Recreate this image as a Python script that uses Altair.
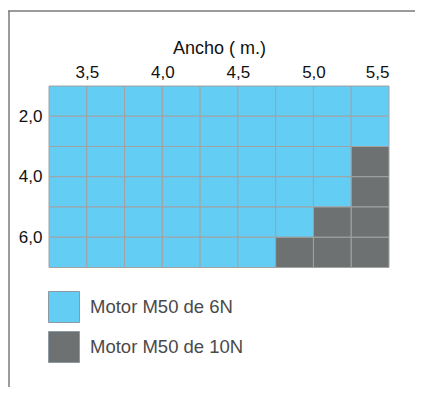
import altair as alt
import pandas as pd

# Column right edges (ancho, m) and row bottom edges (alto, m)
ancho = [3.5, 3.75, 4.0, 4.25, 4.5, 4.75, 5.0, 5.25, 5.5]
alto = [2, 3, 4, 5, 6, 7]
# Largest height (row bottom) served by the 6N motor, per column
limite_6N = [7, 7, 7, 7, 7, 7, 6, 5, 3]
paso_ancho = 0.25
paso_alto = 1

motores = ["Motor M50 de 6N", "Motor M50 de 10N"]
colores = ["#63CDF4", "#6E7172"]

x_ticks = [3.5, 4.0, 4.5, 5.0, 5.5]
y_ticks = [2, 4, 6]

rows = []
for a, lim in zip(ancho, limite_6N):
    for h in alto:
        rows.append({
            "x0": a - paso_ancho, "x1": a,
            "y0": h - paso_alto, "y1": h,
            "motor": motores[0] if h <= lim else motores[1],
        })
df = pd.DataFrame(rows)

FONT = "Liberation Sans"

cells = alt.Chart(df).mark_rect(stroke="#a2a2a2", strokeWidth=1).encode(
    x=alt.X("x0:Q",
            scale=alt.Scale(domain=[3.25, 5.5], nice=False, zero=False),
            axis=alt.Axis(orient="top", values=x_ticks, ticks=False, domain=False,
                          grid=False, title="Ancho ( m.)",
                          labelExpr="replace(format(datum.value, '.1f'), '.', ',')",
                          labelFontSize=17, labelColor="#111", labelFont=FONT,
                          labelPadding=5, titleFont=FONT, titleFontSize=18,
                          titleFontWeight="normal", titleColor="#111",
                          titlePadding=6)),
    x2="x1:Q",
    y=alt.Y("y0:Q",
            scale=alt.Scale(domain=[1, 7], nice=False, zero=False, reverse=True),
            axis=alt.Axis(values=y_ticks, ticks=False, domain=False, grid=False,
                          title=None,
                          labelExpr="replace(format(datum.value, '.1f'), '.', ',')",
                          labelFontSize=17, labelColor="#111", labelFont=FONT,
                          labelPadding=7)),
    y2="y1:Q",
    color=alt.Color("motor:N",
                    scale=alt.Scale(domain=motores, range=colores),
                    legend=alt.Legend(orient="none", legendX=-1, legendY=205,
                                      direction="vertical", title=None,
                                      symbolType="square", symbolSize=961,
                                      symbolStrokeColor="#8c9aa3",
                                      symbolStrokeWidth=1, symbolOpacity=1,
                                      labelFont=FONT, labelFontSize=18.5,
                                      labelColor="#4a4a4a", labelOffset=10,
                                      rowPadding=4, padding=0)),
)

top_line = alt.Chart(alt.Data(values=[{}])).mark_rule(color="#7a7a7a", strokeWidth=1.5).encode(
    x=alt.value(-41), x2=alt.value(400), y=alt.value(-75))
left_line = alt.Chart(alt.Data(values=[{}])).mark_rule(color="#7a7a7a", strokeWidth=1.5).encode(
    x=alt.value(-40), y=alt.value(-75), y2=alt.value(320))

chart = alt.layer(top_line, left_line, cells).properties(
    width=340, height=181.5,
    padding={"left": 41, "top": 78, "right": 26, "bottom": 119},
    autosize="none",
    background="white",
).configure_view(stroke=None)

chart.save("out.html", embed_options={"renderer": "svg", "actions": False})
